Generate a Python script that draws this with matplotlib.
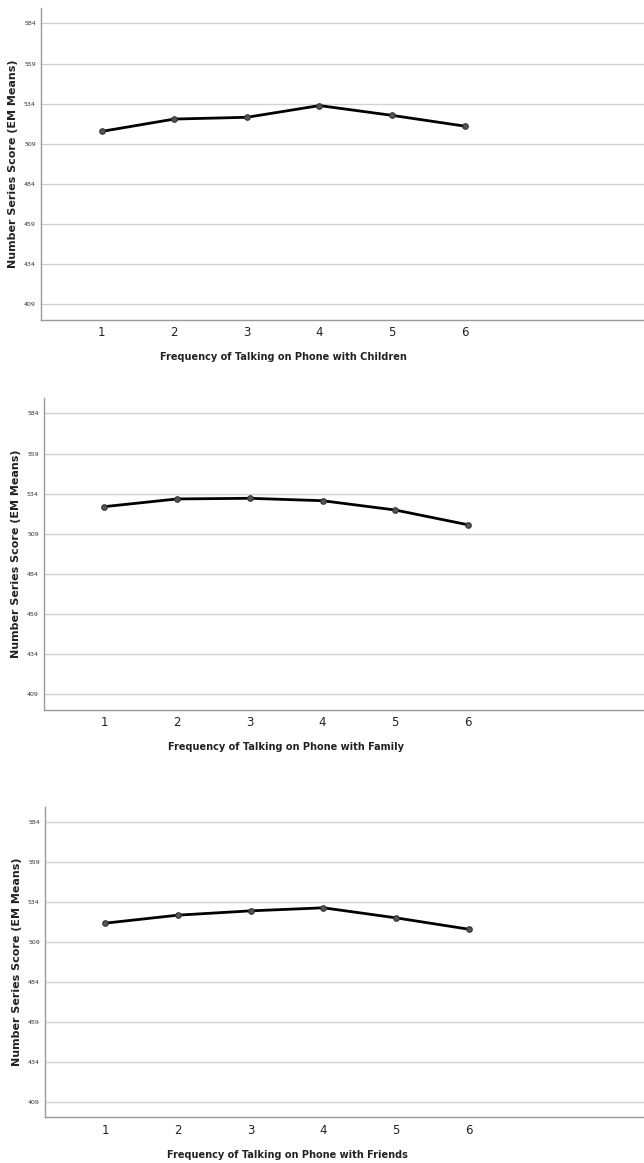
import matplotlib
matplotlib.use('Agg')
import matplotlib.pyplot as plt

# Frequency levels (x axis)
freq = [1, 2, 3, 4, 5, 6]

# Estimated marginal means
children = [516.7, 524.4, 525.5, 532.8, 526.7, 520.0]
family = [525.9, 530.7, 531.1, 529.6, 523.8, 514.6]
friends = [520.7, 525.7, 528.4, 530.3, 524.0, 516.9]

y_ticks = [409, 434, 459, 484, 509, 534, 559, 584]

x_labels = ["Frequency of Talking on Phone with Children",
            "Frequency of Talking on Phone with Family",
            "Frequency of Talking on Phone with Friends"]
y_label = "Number Series Score (EM Means)"

series = [children, family, friends]

# axes boxes in figure fraction: left, bottom, width, height
boxes = [(0.0632, 0.7249, 0.9368, 0.2682),
         (0.0679, 0.3895, 0.9321, 0.2683),
         (0.0694, 0.0393, 0.9306, 0.2671)]
x_lims = [(0.160, 8.47), (0.166, 8.42), (0.166, 8.41)]
xlabel_y = [-0.104, -0.104, -0.105]

fig = plt.figure(figsize=(6.44, 11.63), dpi=100)

for i in range(3):
    ax = fig.add_axes(boxes[i])
    ax.plot(freq, series[i], color='black', lw=2.0, marker='o', markersize=4,
            markerfacecolor='#555555', markeredgecolor='#333333', markeredgewidth=0.8,
            zorder=3)
    lo, hi = x_lims[i]
    ax.set_xlim(lo, hi)
    ax.set_ylim(399.2, 593.6)
    ax.set_yticks(y_ticks)
    ax.set_xticks(freq)
    ax.yaxis.grid(True, color='#d2d2d2', lw=1.0)
    ax.set_axisbelow(True)
    for s in ['top', 'right']:
        ax.spines[s].set_visible(False)
    for s in ['left', 'bottom']:
        ax.spines[s].set_color('#9a9a9a')
        ax.spines[s].set_linewidth(1.0)
    ax.tick_params(axis='y', length=0, pad=3.5, labelsize=4.5, labelcolor='#333333')
    ax.tick_params(axis='x', length=0, pad=4.5, labelsize=8.5, labelcolor='#222222')
    ax.set_xlabel(x_labels[i], fontsize=7.0, fontweight='bold', color='#222222')
    # centred under the middle of the six categories
    ax.xaxis.set_label_coords((3.5 - lo) / (hi - lo), xlabel_y[i])
    ax.set_ylabel(y_label, fontsize=8.0, fontweight='bold', color='#222222')
    ax.yaxis.set_label_coords(-0.038, 0.5)

fig.savefig('out.png', dpi=100)
